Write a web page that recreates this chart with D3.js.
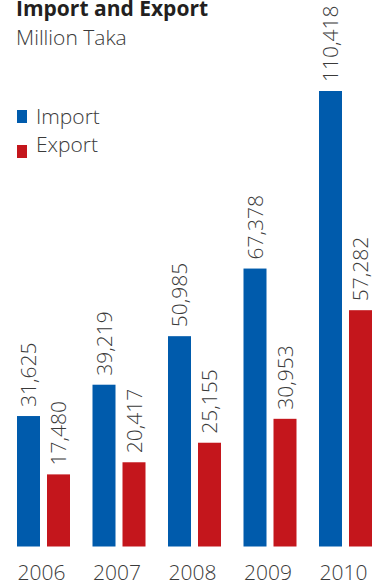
<!DOCTYPE html>
<html>
<head>
<meta charset="utf-8">
<script src="https://cdn.jsdelivr.net/npm/d3@7"></script>
<style>
  html, body { margin: 0; padding: 0; background: #fff; }
  svg { display: block; }
  text { font-family: "Open Sans", "Noto Sans", sans-serif; }
</style>
</head>
<body>
<svg id="chart" width="374" height="584"></svg>
<script>
const years = ["2006", "2007", "2008", "2009", "2010"];
const seriesNames = ["Import", "Export"];
const importValues = [31625, 39219, 50985, 67378, 110418];
const exportValues = [17480, 20417, 25155, 30953, 57282];
const colors = ["#005BAC", "#C4161C"];

const svg = d3.select("#chart");
const baseline = 546.5;

const x0 = d3.scaleBand().domain(years).range([17, 17 + 4 * 75.5 + 53]).paddingInner((75.5 - 53) / 75.5).paddingOuter(0);
const x1 = d3.scaleBand().domain(seriesNames).range([0, x0.bandwidth()]).paddingInner(7 / 30);
const y = d3.scaleLinear().domain([0, 110418]).range([baseline, 91]);

const data = years.map((yr, i) => ({
  year: yr,
  values: [
    { name: "Import", value: importValues[i] },
    { name: "Export", value: exportValues[i] }
  ]
}));

const fmt = d3.format(",");

const groups = svg.selectAll("g.grp").data(data).join("g")
  .attr("class", "grp")
  .attr("transform", d => `translate(${x0(d.year)},0)`);

groups.selectAll("rect").data(d => d.values).join("rect")
  .attr("x", d => x1(d.name))
  .attr("width", x1.bandwidth())
  .attr("y", d => y(d.value))
  .attr("height", d => baseline - y(d.value))
  .attr("fill", (d, i) => colors[i]);

groups.selectAll("text.val").data(d => d.values).join("text")
  .attr("class", "val")
  .attr("transform", d => `translate(${x1(d.name) + x1.bandwidth() / 2},${y(d.value) - 9}) rotate(-90)`)
  .attr("dy", "0.36em")
  .attr("text-anchor", "start")
  .attr("font-size", 21)
  .attr("font-weight", 300)
  .attr("fill", "#3a3a3a")
  .text(d => fmt(d.value));

// x axis labels
const xAxis = d3.axisBottom(x0).tickSize(0).tickPadding(0);
const ax = svg.append("g").attr("transform", `translate(0,${baseline})`).call(xAxis);
ax.select(".domain").remove();
ax.selectAll("text")
  .attr("x", -2)
  .attr("y", 33)
  .attr("dy", 0)
  .attr("font-size", 21)
  .attr("font-weight", 300)
  .attr("fill", "#3a3a3a")
  .style("font-family", "'Open Sans', sans-serif");

// title
svg.append("text").attr("x", 16).attr("y", 16)
  .attr("font-size", 21).attr("font-weight", 700).attr("fill", "#231f20")
  .text("Import and Export");
svg.append("text").attr("x", 16).attr("y", 45)
  .attr("font-size", 21).attr("font-weight", 300).attr("fill", "#3a3a3a")
  .text("Million Taka");

// legend
const legendY = [[110, 124], [145, 152]];
seriesNames.forEach((n, i) => {
  svg.append("rect").attr("x", 17).attr("y", legendY[i][0]).attr("width", 10).attr("height", 13).attr("fill", colors[i]);
  svg.append("text").attr("x", 36).attr("y", legendY[i][1])
    .attr("font-size", 21).attr("font-weight", 300).attr("fill", "#3a3a3a")
    .text(n);
});
</script>
</body>
</html>
